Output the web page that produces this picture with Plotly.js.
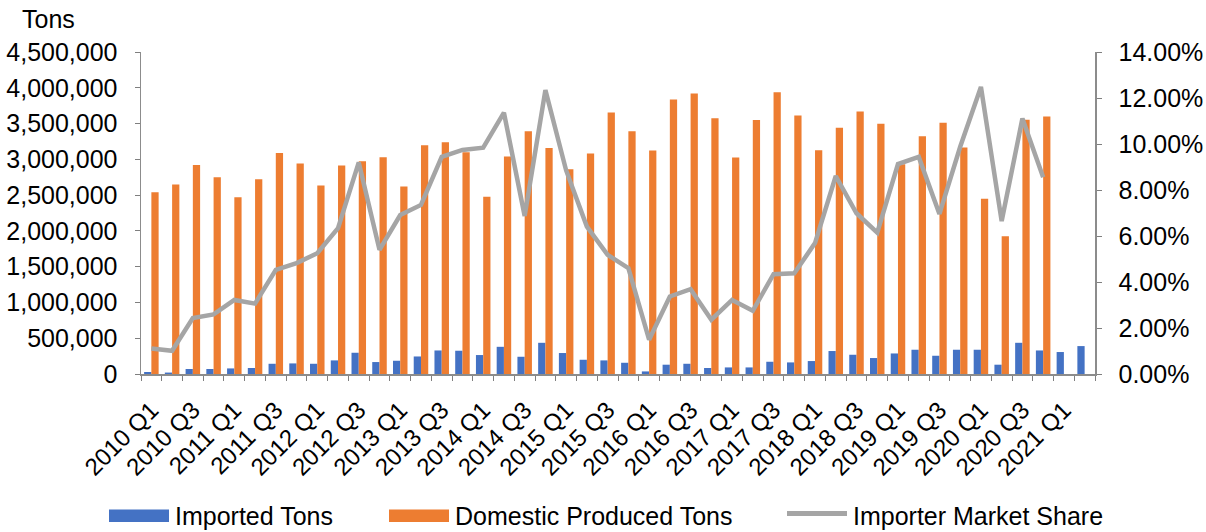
<!DOCTYPE html>
<html>
<head>
<meta charset="utf-8">
<script src="https://cdn.plot.ly/plotly-3.0.1.min.js"></script>
<style>html,body{margin:0;padding:0;background:#fff;}#chart{width:1206px;height:532px;}</style>
</head>
<body>
<div id="chart"></div>
<script>
const categories = ["2010 Q1","2010 Q2","2010 Q3","2010 Q4","2011 Q1","2011 Q2","2011 Q3","2011 Q4",
  "2012 Q1","2012 Q2","2012 Q3","2012 Q4","2013 Q1","2013 Q2","2013 Q3","2013 Q4",
  "2014 Q1","2014 Q2","2014 Q3","2014 Q4","2015 Q1","2015 Q2","2015 Q3","2015 Q4",
  "2016 Q1","2016 Q2","2016 Q3","2016 Q4","2017 Q1","2017 Q2","2017 Q3","2017 Q4",
  "2018 Q1","2018 Q2","2018 Q3","2018 Q4","2019 Q1","2019 Q2","2019 Q3","2019 Q4",
  "2020 Q1","2020 Q2","2020 Q3","2020 Q4","2021 Q1","2021 Q2"];

const importedTons = [28000,20000,70000,70000,78000,84000,143000,148000,
  143000,190000,297000,167000,185000,245000,329000,325000,
  265000,380000,241000,436000,293000,199000,190000,157000,
  36000,130000,143000,84000,92000,92000,171000,162000,
  181000,321000,269000,223000,287000,339000,255000,339000,
  339000,130000,436000,329000,307000,390000];

const domesticTons = [2541000,2648000,2922000,2750000,2471000,2722000,3089000,2941000,
  2634000,2913000,2973000,3029000,2620000,3196000,3238000,3099000,
  2476000,3039000,3391000,3159000,2862000,3080000,3656000,3391000,
  3122000,3837000,3921000,3573000,3025000,3549000,3939000,3614000,
  3127000,3443000,3670000,3499000,2931000,3322000,3513000,3164000,
  2448000,1924000,3554000,3600000,null,null];

const marketShare = [0.0111,0.0101,0.0243,0.0259,0.0322,0.0306,0.0453,0.0482,
  0.0525,0.0634,0.0920,0.0540,0.0691,0.0735,0.0944,0.0974,
  0.0984,0.1136,0.0687,0.1234,0.0885,0.0641,0.0518,0.0460,
  0.0149,0.0337,0.0369,0.0236,0.0322,0.0275,0.0434,0.0438,
  0.0569,0.0861,0.0699,0.0615,0.0913,0.0944,0.0696,0.0988,
  0.1248,0.0665,0.1111,0.0855,null,null];

const leftTicks = [0,500000,1000000,1500000,2000000,2500000,3000000,3500000,4000000,4500000];
const rightTicks = [0,0.02,0.04,0.06,0.08,0.10,0.12,0.14];
const seriesNames = ["Imported Tons","Domestic Produced Tons","Importer Market Share"];
const colors = ["#4472C4","#ED7D31","#A5A5A5"];

const tickText = categories.map((c,i) => (i % 2 === 0 ? c : ""));

const FONT = "Liberation Sans, Arial, sans-serif";
const FS = 25;     // axis value labels, unit title, legend
const FSX = 24;    // category labels

const traces = [
  {type:"bar", x:categories, y:importedTons, name:seriesNames[0], marker:{color:colors[0]}, yaxis:"y", showlegend:false},
  {type:"bar", x:categories, y:domesticTons, name:seriesNames[1], marker:{color:colors[1]}, yaxis:"y", showlegend:false},
  {type:"scatter", mode:"lines", x:categories, y:marketShare, name:seriesNames[2], yaxis:"y2",
   line:{color:colors[2], width:4.5}, showlegend:false, connectgaps:false}
];

// plot area in pixels: left 141, right 1095, top 52, bottom 374.3
const L = 141, R = 1095, T = 52, B = 374.3;
const px = v => (v - L) / (R - L);
const py = v => (B - v) / (B - T);

const legendY = 516;
const shapes = [
  {type:"rect", xref:"paper", yref:"paper", x0:px(109), x1:px(169), y0:py(522.5), y1:py(510), fillcolor:colors[0], line:{width:0}},
  {type:"rect", xref:"paper", yref:"paper", x0:px(389), x1:px(449), y0:py(522.5), y1:py(510), fillcolor:colors[1], line:{width:0}},
  {type:"line", xref:"paper", yref:"paper", x0:px(787), x1:px(847), y0:py(514), y1:py(514), line:{color:colors[2], width:5}}
];
const annotations = [
  {text:"Tons", xref:"paper", yref:"paper", x:px(20), y:py(19), xanchor:"left", yanchor:"middle", showarrow:false, font:{family:FONT, size:FS, color:"#000"}},
  {text:seriesNames[0], xref:"paper", yref:"paper", x:px(173), y:py(legendY), xanchor:"left", yanchor:"middle", showarrow:false, font:{family:FONT, size:FS, color:"#000"}},
  {text:seriesNames[1], xref:"paper", yref:"paper", x:px(453), y:py(legendY), xanchor:"left", yanchor:"middle", showarrow:false, font:{family:FONT, size:FS, color:"#000"}},
  {text:seriesNames[2], xref:"paper", yref:"paper", x:px(851), y:py(legendY), xanchor:"left", yanchor:"middle", showarrow:false, font:{family:FONT, size:FS, color:"#000"}}
];

const layout = {
  width:1206, height:532,
  margin:{l:L, r:1206-R, t:T, b:532-B, pad:0},
  paper_bgcolor:"#fff", plot_bgcolor:"#fff",
  font:{family:FONT, size:FS, color:"#000"},
  barmode:"group", bargap:0.3, bargroupgap:0,
  showlegend:false,
  xaxis:{type:"category", categoryorder:"array", categoryarray:categories,
    tickmode:"array", tickvals:categories, ticktext:tickText, tickangle:-45,
    tickson:"boundaries", ticks:"outside", ticklen:5, tickcolor:"#7f7f7f", tickwidth:1,
    showline:true, linecolor:"#8c8c8c", linewidth:1.5, showgrid:false, zeroline:false,
    ticklabelstandoff:11,
    tickfont:{family:FONT, size:FSX, color:"#000"}, fixedrange:true},
  yaxis:{range:[0,4500000], tickmode:"array", tickvals:leftTicks, tickformat:",d",
    ticks:"outside", ticklen:5, tickcolor:"#7f7f7f", showline:true, linecolor:"#8c8c8c", linewidth:1.5,
    showgrid:false, zeroline:false, ticklabelstandoff:12,
    tickfont:{family:FONT, size:FS, color:"#000"}},
  yaxis2:{range:[0,0.14], overlaying:"y", side:"right", tickmode:"array", tickvals:rightTicks, tickformat:".2%",
    ticks:"outside", ticklen:5, tickcolor:"#7f7f7f", showline:true, linecolor:"#8c8c8c", linewidth:1.5,
    showgrid:false, zeroline:false, ticklabelstandoff:12,
    tickfont:{family:FONT, size:FS, color:"#000"}},
  shapes:shapes, annotations:annotations
};

Plotly.newPlot("chart", traces, layout, {displayModeBar:false, staticPlot:true});
</script>
</body>
</html>
